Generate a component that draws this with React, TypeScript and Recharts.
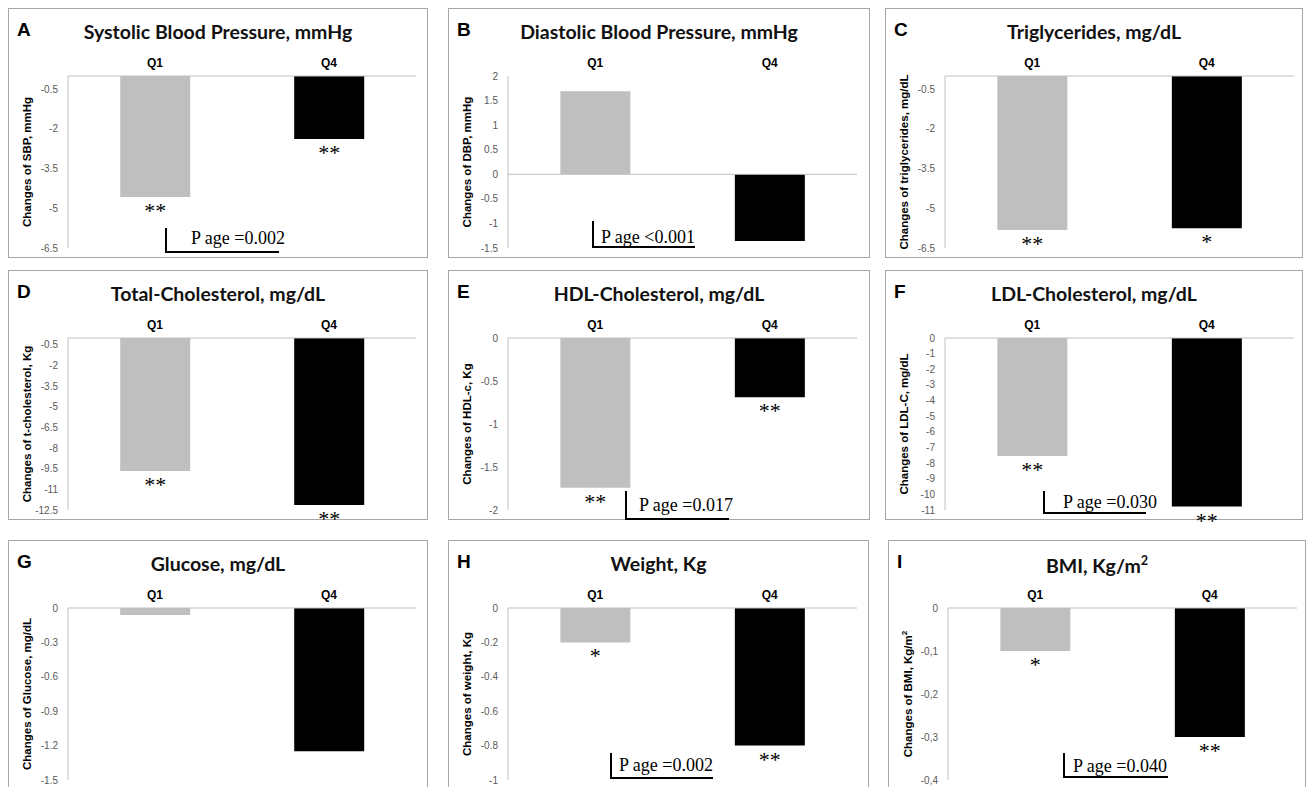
import React from "react";
import { Bar, BarChart, Cell, LabelList, ReferenceLine, XAxis, YAxis } from "recharts";

// groups on the x axis
const quartiles = ["Q1", "Q4"];
const barColors = ["#bfbfbf", "#000000"];

// mean change per quartile
const sbpChange = [-4.57, -2.38];
const dbpChange = [1.69, -1.36];
const tgChange = [-5.82, -5.75];
const tcChange = [-9.67, -12.14];
const hdlChange = [-1.74, -0.69];
const ldlChange = [-7.54, -10.78];
const glucoseChange = [-0.06, -1.25];
const weightChange = [-0.2, -0.8];
const bmiChange = [-0.1, -0.3];

// significance marks under each bar
const sbpStars = ["**", "**"];
const dbpStars = ["", ""];
const tgStars = ["**", "*"];
const tcStars = ["**", "**"];
const hdlStars = ["**", "**"];
const ldlStars = ["**", "**"];
const glucoseStars = ["", ""];
const weightStars = ["*", "**"];
const bmiStars = ["*", "**"];

// y tick labels
const sbpTicks = [-6.5, -5, -3.5, -2, -0.5];
const dbpTicks = [-1.5, -1, -0.5, 0, 0.5, 1, 1.5, 2];
const tgTicks = [-6.5, -5, -3.5, -2, -0.5];
const tcTicks = [-12.5, -11, -9.5, -8, -6.5, -5, -3.5, -2, -0.5];
const hdlTicks = [-2, -1.5, -1, -0.5, 0];
const ldlTicks = [-11, -10, -9, -8, -7, -6, -5, -4, -3, -2, -1, 0];
const glucoseTicks = [-1.5, -1.2, -0.9, -0.6, -0.3, 0];
const weightTicks = [-1, -0.8, -0.6, -0.4, -0.2, 0];
const bmiTicks = [-0.4, -0.3, -0.2, -0.1, 0];

type PanelSpec = {
  letter: string;
  title: React.ReactNode;
  yLabel: React.ReactNode;
  values: number[];
  stars: string[];
  ticks: number[];
  domain: [number, number];
  pAge?: string;
  comma?: boolean;
};

const panels: PanelSpec[] = [
  { letter: "A", title: "Systolic Blood Pressure, mmHg", yLabel: "Changes of SBP, mmHg", values: sbpChange, stars: sbpStars, ticks: sbpTicks, domain: [-6.5, 0], pAge: "P age =0.002" },
  { letter: "B", title: "Diastolic Blood Pressure, mmHg", yLabel: "Changes of DBP, mmHg", values: dbpChange, stars: dbpStars, ticks: dbpTicks, domain: [-1.5, 2], pAge: "P age <0.001" },
  { letter: "C", title: "Triglycerides, mg/dL", yLabel: "Changes of triglycerides, mg/dL", values: tgChange, stars: tgStars, ticks: tgTicks, domain: [-6.5, 0] },
  { letter: "D", title: "Total-Cholesterol, mg/dL", yLabel: "Changes of t-cholesterol, Kg", values: tcChange, stars: tcStars, ticks: tcTicks, domain: [-12.5, 0] },
  { letter: "E", title: "HDL-Cholesterol, mg/dL", yLabel: "Changes of HDL-c, Kg", values: hdlChange, stars: hdlStars, ticks: hdlTicks, domain: [-2, 0], pAge: "P age =0.017" },
  { letter: "F", title: "LDL-Cholesterol, mg/dL", yLabel: "Changes of LDL-C, mg/dL", values: ldlChange, stars: ldlStars, ticks: ldlTicks, domain: [-11, 0], pAge: "P age =0.030" },
  { letter: "G", title: "Glucose, mg/dL", yLabel: "Changes of Glucose, mg/dL", values: glucoseChange, stars: glucoseStars, ticks: glucoseTicks, domain: [-1.5, 0] },
  { letter: "H", title: "Weight, Kg", yLabel: "Changes of weight, Kg", values: weightChange, stars: weightStars, ticks: weightTicks, domain: [-1, 0], pAge: "P age =0.002" },
  { letter: "I", title: <>BMI, Kg/m<sup style={{ fontSize: "0.65em" }}>2</sup></>, yLabel: <>Changes of BMI, Kg/m<sup style={{ fontSize: "0.7em" }}>2</sup></>, values: bmiChange, stars: bmiStars, ticks: bmiTicks, domain: [-0.4, 0], pAge: "P age =0.040", comma: true },
];

// panel frames on the page
const frames = [
  { left: 8, top: 8, width: 420, plotRight: 407 },
  { left: 448, top: 8, width: 422, plotRight: 408 },
  { left: 885, top: 8, width: 418, plotRight: 408 },
  { left: 8, top: 270, width: 420, plotRight: 407 },
  { left: 448, top: 270, width: 422, plotRight: 408 },
  { left: 885, top: 270, width: 418, plotRight: 408 },
  { left: 8, top: 540, width: 420, plotRight: 407 },
  { left: 448, top: 540, width: 421, plotRight: 408 },
  { left: 888, top: 540, width: 418, plotRight: 408 },
];

// "P age" bracket placement, panel-local
const brackets: Record<string, { x: number; y1: number; y2: number; x2: number; tx: number; ty: number }> = {
  A: { x: 157, y1: 219, y2: 243, x2: 270, tx: 182, ty: 235 },
  B: { x: 144, y1: 212, y2: 238, x2: 246, tx: 152, ty: 234 },
  E: { x: 177, y1: 220, y2: 248, x2: 280, tx: 190, ty: 240 },
  F: { x: 158, y1: 220, y2: 242, x2: 260, tx: 177, ty: 237 },
  H: { x: 162, y1: 212, y2: 237, x2: 264, tx: 170, ty: 230 },
  I: { x: 175, y1: 212, y2: 236, x2: 279, tx: 184, ty: 231 },
};

const PANEL_H = 250;
const EXTRA = 20; // room below the plot so low star marks are not clipped
const axisGray = "#c0c0c0";

const renderStars = (props: any) => {
  const box = props.viewBox ?? props;
  const { x, y, width, height } = box;
  if (!props.value) return null;
  const bottom = Math.max(y, y + height);
  return (
    <text
      x={x + width / 2}
      y={bottom + 21}
      textAnchor="middle"
      fontFamily="'Liberation Serif', 'Times New Roman', serif"
      fontSize={22}
      fill="#000"
    >
      {props.value}
    </text>
  );
};

function Panel({ spec, frame }: { spec: PanelSpec; frame: (typeof frames)[number] }) {
  const data = quartiles.map((q, i) => ({ q, value: spec.values[i], stars: spec.stars[i] }));
  const inner = frame.width - 2;
  const br = brackets[spec.letter];
  return (
    <div
      style={{
        position: "absolute",
        left: frame.left,
        top: frame.top,
        width: frame.width,
        height: PANEL_H,
        boxSizing: "border-box",
        border: "1px solid #a6a6a6",
        background: "#fff",
      }}
    >
      <div
        style={{
          position: "absolute",
          left: 8,
          top: 11,
          fontFamily: "'Liberation Sans', Arial, sans-serif",
          fontWeight: 700,
          fontSize: 19,
          lineHeight: 1,
        }}
      >
        {spec.letter}
      </div>
      <div
        style={{
          position: "absolute",
          left: 0,
          width: "100%",
          top: 13,
          textAlign: "center",
          fontFamily: "Lato, 'Open Sans', sans-serif",
          fontWeight: 700,
          fontSize: 19.5,
          lineHeight: 1,
          color: "#111",
        }}
      >
        {spec.title}
      </div>
      <div
        style={{
          position: "absolute",
          left: 19,
          top: 153,
          transform: "translate(-50%, -50%) rotate(-90deg)",
          whiteSpace: "nowrap",
          fontFamily: "'Liberation Sans', Arial, sans-serif",
          fontWeight: 700,
          fontSize: 11.5,
          lineHeight: 1,
        }}
      >
        {spec.yLabel}
      </div>
      <div style={{ position: "absolute", left: 0, top: 0 }}>
        <BarChart
          width={inner}
          height={PANEL_H - 2 + EXTRA}
          data={data}
          margin={{ top: 47, right: inner - frame.plotRight, bottom: 9 + EXTRA, left: 10 }}
          barCategoryGap="30%"
        >
          <XAxis
            dataKey="q"
            orientation="top"
            height={20}
            axisLine={false}
            tickLine={false}
            tickSize={0}
            tickMargin={9}
            tick={{ fill: "#000", fontSize: 12, fontWeight: 700, fontFamily: "'Liberation Sans', Arial, sans-serif" }}
          />
          <YAxis
            type="number"
            domain={spec.domain}
            ticks={spec.ticks}
            interval={0}
            width={49}
            axisLine={{ stroke: axisGray }}
            tickLine={false}
            tickSize={0}
            tickMargin={10}
            tick={{ fill: "#595959", fontSize: 10, fontFamily: "'Liberation Sans', Arial, sans-serif" }}
            tickFormatter={(v: number) => (spec.comma ? String(v).replace(".", ",") : String(v))}
          />
          <ReferenceLine y={0} stroke={axisGray} />
          <Bar dataKey="value" isAnimationActive={false}>
            {data.map((d, i) => (
              <Cell key={d.q} fill={barColors[i]} />
            ))}
            <LabelList dataKey="stars" content={renderStars} />
          </Bar>
        </BarChart>
      </div>
      {spec.pAge && br ? (
        <svg
          width={inner}
          height={PANEL_H - 2}
          style={{ position: "absolute", left: 0, top: 0, overflow: "visible", pointerEvents: "none" }}
        >
          <polyline
            points={`${br.x},${br.y1} ${br.x},${br.y2} ${br.x2},${br.y2}`}
            fill="none"
            stroke="#000"
            strokeWidth={2}
          />
          <text
            x={br.tx}
            y={br.ty}
            fontFamily="'Liberation Serif', 'Times New Roman', serif"
            fontSize={18}
            fill="#000"
          >
            {spec.pAge}
          </text>
        </svg>
      ) : null}
    </div>
  );
}

export default function App() {
  return (
    <div
      style={{
        position: "absolute",
        left: 0,
        top: 0,
        width: 1306,
        height: 787,
        overflow: "hidden",
        background: "#fff",
      }}
    >
      {panels.map((spec, i) => (
        <Panel key={spec.letter} spec={spec} frame={frames[i]} />
      ))}
    </div>
  );
}
